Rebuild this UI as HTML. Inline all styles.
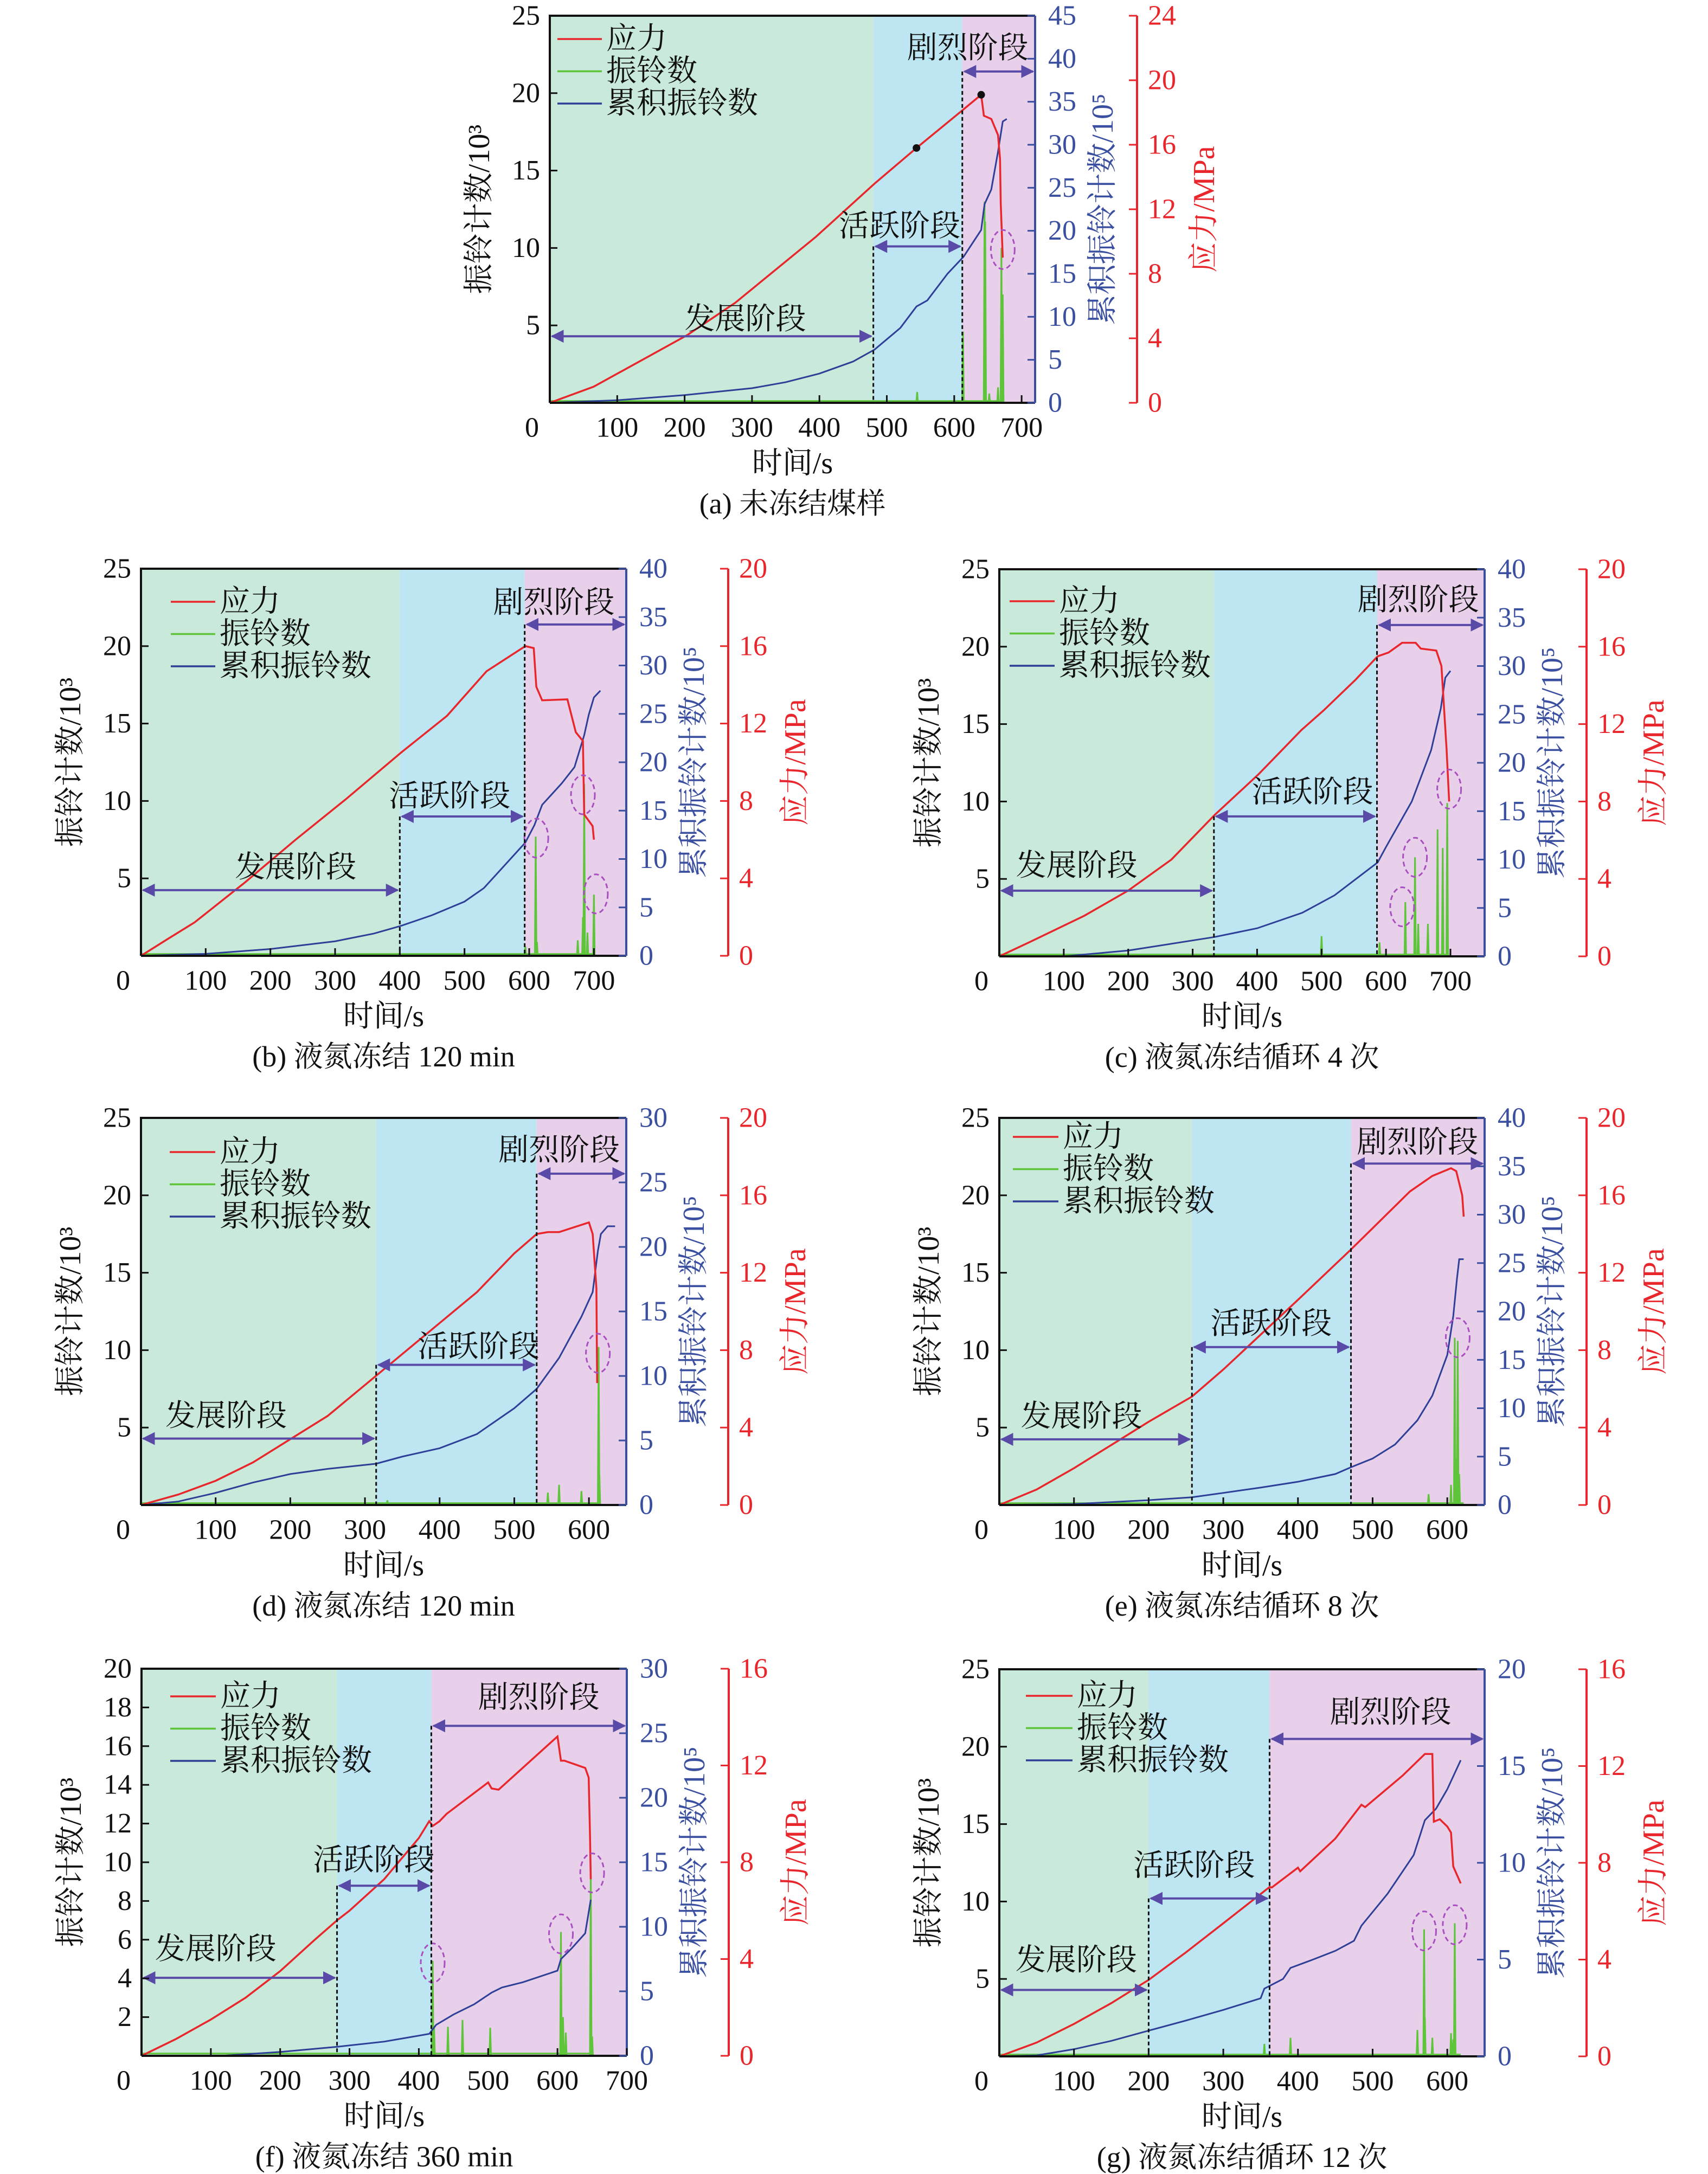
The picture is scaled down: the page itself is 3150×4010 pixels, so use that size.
<!DOCTYPE html>
<html><head><meta charset="utf-8">
<style>
html,body{margin:0;padding:0;background:#fff;}
svg{display:block;}
text{font-family:"Liberation Serif","Noto Serif CJK SC",serif;}
</style></head>
<body>
<svg id="fig" xmlns="http://www.w3.org/2000/svg" width="3150" height="4010" viewBox="0 0 3150 4010">
<defs>
<marker id="ah" viewBox="0 0 10 10" refX="9" refY="5" markerWidth="6" markerHeight="6" orient="auto-start-reverse" markerUnits="strokeWidth">
<path d="M0,0 L10,5 L0,10 z" fill="#5a4aa8"/>
</marker>
</defs>
<rect x="0" y="0" width="3150" height="4010" fill="#fff"/>
</svg>
<script>
// ===== Panel (a) data =====
const aStage = [480, 612];
const aStressT = [0,65,204,275,395,482,544,614,640,644,655,665,668,669,672];
const aStressV = [0,1.0,4.2,6.2,10.3,13.6,15.8,18.2,19.1,17.8,17.6,16.6,15.1,12.4,9.0];
const aCumT = [0,100,200,300,350,400,450,482,520,544,560,590,614,640,645,655,665,672,678];
const aCumV = [0,0.3,0.9,1.7,2.4,3.4,4.8,6.2,8.7,11.2,11.9,15.0,17.0,20.1,23.1,24.8,29.2,32.7,33.0];
const aRingT = [545,613,645,646,652,665,670,672];
const aRingV = [0.7,4.6,13.0,11.7,0.6,1.0,10.0,7.0];
const aDotsT = [544,640];
const aCircT = [672]; const aCircV = [9.9];
const aArrowY = [4.3,10.1,21.4];
// ===== Panel (b) =====
const bStage = [400, 593];
const bStressT = [0,40,83,161,239,317,402,473,534,594,607,611,620,659,672,683,685,698,700];
const bStressV = [0,0.84,1.73,3.8,6.0,8.1,10.5,12.4,14.7,16.0,15.9,13.9,13.2,13.25,11.55,11.1,7.3,6.7,6.0];
const bCumT = [0,100,200,300,360,402,450,500,530,560,594,608,620,650,670,685,692,700,710];
const bCumV = [0,0.2,0.7,1.5,2.3,3.1,4.2,5.6,7.0,9.2,11.7,13.5,15.6,17.8,19.5,22.8,24.9,26.7,27.4];
const bRingT = [594,610,612,675,683,685,690,700];
const bRingV = [0.6,7.7,0.9,1.0,2.5,11.1,1.5,3.95];
const bCircT = [611,683,703]; const bCircV = [7.6,10.4,4.0];
const bArrowY = [4.24,9.0,21.4];
// ===== Panel (c) =====
const cStage = [333, 586];
const cStressT = [0,48,132,200,267,334,402,469,503,553,587,604,625,646,654,678,686,689,694,698];
const cStressV = [0,0.75,2.1,3.4,5.0,7.3,9.4,11.7,12.7,14.3,15.5,15.7,16.2,16.2,15.9,15.8,15.0,13.4,10.7,8.0];
const cCumT = [100,200,334,400,470,520,587,600,640,670,685,692,700];
const cCumV = [0,0.6,2.0,2.9,4.5,6.3,9.7,11.3,16.0,21.3,25.6,28.8,29.5];
const cRingT = [500,590,630,645,650,665,680,688,695];
const cRingV = [1.3,0.9,3.5,6.4,2.1,2.1,8.2,7.0,9.9];
const cCircT = [625,645,698]; const cCircV = [3.2,6.4,10.8];
const cArrowY = [4.24,9.04,21.4];
// ===== Panel (d) =====
const dStage = [315, 530];
const dStressT = [0,50,100,150,200,250,300,350,400,450,500,530,545,560,600,605,610,611];
const dStressV = [0,0.54,1.25,2.2,3.4,4.6,6.2,7.8,9.4,11.0,13.0,14.0,14.1,14.1,14.6,14.0,11.2,6.3];
const dCumT = [0,50,100,150,200,250,315,350,400,450,500,530,560,590,605,612,616,625,635];
const dCumV = [0,0.27,0.94,1.74,2.4,2.8,3.2,3.75,4.4,5.5,7.5,9.0,11.4,14.6,16.5,19.7,21.0,21.6,21.6];
const dRingT = [330,545,560,590,613,614];
const dRingV = [0.3,0.8,1.3,0.9,10.2,2.0];
const dCircT = [612]; const dCircV = [9.8];
const dArrowY = [4.29,9.05,21.4];
// ===== Panel (e) =====
const eStage = [258, 471];
const eStressT = [0,50,100,150,200,258,300,350,400,471,500,550,580,605,612,620,622];
const eStressV = [0,0.8,1.9,3.1,4.3,5.6,7.0,8.8,10.6,13.2,14.3,16.2,17.0,17.4,17.25,16.0,14.9];
const eCumT = [0,100,200,258,300,350,400,450,471,500,530,560,580,600,608,613,616,622];
const eCumV = [0,0.1,0.5,0.8,1.25,1.8,2.4,3.2,3.9,4.8,6.25,8.75,11.3,15.5,19.5,23.4,25.4,25.4];
const eRingT = [575,605,610,612,614,616];
const eRingV = [0.7,1.3,10.8,3.0,10.6,2.0];
const eCircT = [614]; const eCircV = [10.8];
const eArrowY = [4.24,10.2,22.05];
// ===== Panel (f) =====
const fStage = [282, 418];
const fStressT = [0,50,100,150,200,250,282,300,350,400,415,420,430,440,500,505,515,600,605,610,640,645,647,648];
const fStressV = [0,0.7,1.5,2.4,3.5,4.8,5.6,6.0,7.3,9.0,9.7,9.5,9.7,10.0,11.3,11.05,11.0,13.2,12.2,12.2,11.9,11.5,9.0,7.3];
const fCumT = [115,200,282,350,415,425,450,480,505,520,550,600,605,620,640,648];
const fCumV = [0,0.3,0.7,1.1,1.7,2.4,3.2,4.0,4.9,5.3,5.7,6.6,7.5,8.3,9.5,12.1];
const fRingT = [420,422,442,463,503,605,608,612,648,650];
const fRingV = [4.9,1.5,1.5,1.85,1.45,6.4,2.0,1.2,9.8,1.0];
const fCircT = [420,605,650]; const fCircV = [4.8,6.3,9.45];
const fArrowY = [4.03,8.79,17.05];
// ===== Panel (g) =====
const gStage = [200, 362];
const gStressT = [0,50,100,150,200,250,300,362,365,400,403,450,485,490,540,570,580,582,590,600,605,608,618];
const gStressV = [0,0.57,1.34,2.2,3.16,4.3,5.5,7.0,6.98,7.8,7.65,9.0,10.4,10.3,11.6,12.5,12.5,9.7,9.8,9.5,9.25,7.85,7.15];
const gCumT = [0,50,100,150,200,250,300,350,355,380,390,420,450,475,485,520,555,570,585,600,618];
const gCumV = [0,0.05,0.37,0.8,1.33,1.85,2.4,3.0,3.5,4.0,4.57,5.0,5.45,5.97,6.75,8.4,10.4,12.2,12.8,13.8,15.3];
const gRingT = [355,390,560,569,570,580,605,608,610];
const gRingV = [0.8,1.2,1.7,8.2,2.5,1.2,1.5,1.1,8.6];
const gCircT = [569,610]; const gCircV = [8.1,8.5];
const gArrowY = [4.29,10.2,20.5];

const stageNames = ['发展阶段','活跃阶段','剧烈阶段'];

const NS = 'http://www.w3.org/2000/svg';
const svg = document.getElementById('fig');
function mk(tag, attrs, parent){
  const e = document.createElementNS(NS, tag);
  for (const k in attrs) e.setAttribute(k, attrs[k]);
  (parent || svg).appendChild(e);
  return e;
}
const RED='#e8262b', GRN='#5ec43a', BLU='#2e3f98', AXB='#3a4fa0', PUR='#5a4aa8';

const panels = [
 {id:'a', L:1014, T:29, xmax:720, lmax:25, lstep:5, bmax:45, rmax:24, rstep:4, xticks:[100,200,300,400,500,600,700],
  stage:aStage, sT:aStressT, sV:aStressV, cT:aCumT, cV:aCumV, gT:aRingT, gV:aRingV, circT:aCircT, circV:aCircV, arrowY:aArrowY,
  labels:[[290,5.4],[519,11.4],[620,22.9]], leg:[14,96,43], caption:'(a) 未冻结煤样', dots:aDotsT},
 {id:'b', L:260, T:1049, xmax:750, lmax:25, lstep:5, bmax:40, rmax:20, rstep:4, xticks:[100,200,300,400,500,600,700],
  stage:bStage, sT:bStressT, sV:bStressV, cT:bCumT, cV:bCumV, gT:bRingT, gV:bRingV, circT:bCircT, circV:bCircV, arrowY:bArrowY,
  labels:[[239,5.7],[477,10.3],[638,22.8]], leg:[55,137,61], caption:'(b) 液氮冻结 120 min'},
 {id:'c', L:1843, T:1050, xmax:753, lmax:25, lstep:5, bmax:40, rmax:20, rstep:4, xticks:[100,200,300,400,500,600,700],
  stage:cStage, sT:cStressT, sV:cStressV, cT:cCumT, cV:cCumV, gT:cRingT, gV:cRingV, circT:cCircT, circV:cCircV, arrowY:cArrowY,
  labels:[[120,5.85],[486,10.6],[650,23.0]], leg:[19,102,59], caption:'(c) 液氮冻结循环 4 次'},
 {id:'d', L:260, T:2062, xmax:650, lmax:25, lstep:5, bmax:30, rmax:20, rstep:4, xticks:[100,200,300,400,500,600],
  stage:dStage, sT:dStressT, sV:dStressV, cT:dCumT, cV:dCumV, gT:dRingT, gV:dRingV, circT:dCircT, circV:dCircV, arrowY:dArrowY,
  labels:[[114,5.74],[452,10.2],[560,22.9]], leg:[53,137,63], caption:'(d) 液氮冻结 120 min'},
 {id:'e', L:1843, T:2062, xmax:650, lmax:25, lstep:5, bmax:40, rmax:20, rstep:4, xticks:[100,200,300,400,500,600],
  stage:eStage, sT:eStressT, sV:eStressV, cT:eCumT, cV:eCumV, gT:eRingT, gV:eRingV, circT:eCircT, circV:eCircV, arrowY:eArrowY,
  labels:[[110,5.7],[364,11.7],[560,23.4]], leg:[25,109,35], caption:'(e) 液氮冻结循环 8 次'},
 {id:'f', L:261, T:3078, xmax:700, lmax:20, lstep:2, bmax:30, rmax:16, rstep:4, xticks:[100,200,300,400,500,600,700],
  stage:fStage, sT:fStressT, sV:fStressV, cT:fCumT, cV:fCumV, gT:fRingT, gV:fRingV, circT:fCircT, circV:fCircV, arrowY:fArrowY,
  labels:[[107,5.5],[335,10.1],[573,18.5]], leg:[53,137,51], caption:'(f) 液氮冻结 360 min'},
 {id:'g', L:1843, T:3079, xmax:650, lmax:25, lstep:5, bmax:20, rmax:16, rstep:4, xticks:[100,200,300,400,500,600],
  stage:gStage, sT:gStressT, sV:gStressV, cT:gCumT, cV:gCumV, gT:gRingT, gV:gRingV, circT:gCircT, circV:gCircV, arrowY:gArrowY,
  labels:[[103,6.2],[261,12.3],[524,22.2]], leg:[49,135,49], caption:'(g) 液氮冻结循环 12 次'}
];

const W = 895, H = 714, RAX = 1083;

panels.forEach(p => {
  const L=p.L, T=p.T, B=T+H, R=L+W, RA=L+RAX;
  const X = t => L + t/p.xmax*W;
  const YL = v => B - v/p.lmax*H;
  const YB = v => B - v/p.bmax*H;
  const YR = v => B - v/p.rmax*H;
  const g = mk('g', {});
  
  

  const bands = [[0,p.stage[0],'#c9eadb','development'],[p.stage[0],p.stage[1],'#bde5f2','active'],[p.stage[1],p.xmax,'#e8d0ea','violent']];
  bands.forEach(b => {
    const r = mk('rect', {x:X(b[0]), y:T, width:X(b[1])-X(b[0]), height:H, fill:b[2]}, g);
    
    
  });

  const endT = p.sT[p.sT.length-1];
  let d = 'M'+X(0)+','+YL(0.12)+' L'+X(endT)+','+YL(0.12);
  for (let i=0;i<p.gT.length;i++){
    d += ' M'+(X(p.gT[i])-1.5)+','+YL(0)+' L'+X(p.gT[i])+','+YL(p.gV[i])+' L'+(X(p.gT[i])+1.5)+','+YL(0);
  }
  const ring = mk('path', {d:d, fill:'none', stroke:GRN, 'stroke-width':3}, g);
  
  

  const cum = mk('polyline', {points:p.cT.map((t,i)=>X(t)+','+YB(p.cV[i])).join(' '), fill:'none', stroke:BLU, 'stroke-width':3}, g);
  
  

  const st = mk('polyline', {points:p.sT.map((t,i)=>X(t)+','+YR(p.sV[i])).join(' '), fill:'none', stroke:RED, 'stroke-width':3.5}, g);
  
  

  if (p.dots){
    p.dots.forEach(t => {
      let j=0; while (j<p.sT.length-1 && p.sT[j+1]<t) j++;
      const t0=p.sT[j], t1=p.sT[j+1]; const v = p.sV[j] + (p.sV[j+1]-p.sV[j])*(t-t0)/(t1-t0);
      const c = mk('circle', {cx:X(t), cy:YR(v), r:7, fill:'#111'}, g);
      
      
    });
  }

  p.circT.forEach((t,i) => {
    const e = mk('ellipse', {cx:X(t), cy:YL(p.circV[i]), rx:22, ry:36, fill:'none', stroke:'#a94fc0', 'stroke-width':3, 'stroke-dasharray':'9 6'}, g);
    
    
  });

  [[p.stage[0],p.arrowY[1]],[p.stage[1],p.arrowY[2]]].forEach(s => {
    const l = mk('line', {x1:X(s[0]), y1:YL(s[1]), x2:X(s[0]), y2:B, stroke:'#111', 'stroke-width':3, 'stroke-dasharray':'7 5'}, g);
    
    
  });

  const spans = [[0,p.stage[0]],[p.stage[0],p.stage[1]],[p.stage[1],p.xmax]];
  spans.forEach((s,i) => {
    const a = mk('line', {x1:X(s[0])+4, y1:YL(p.arrowY[i]), x2:X(s[1])-4, y2:YL(p.arrowY[i]), stroke:PUR, 'stroke-width':4, 'marker-start':'url(#ah)', 'marker-end':'url(#ah)'}, g);
    
    
    const tx = mk('text', {x:X(p.labels[i][0]), y:YL(p.labels[i][1]), 'font-size':56, 'text-anchor':'middle', 'dominant-baseline':'central', fill:'#111'}, g);
    tx.textContent = stageNames[i];
    
    
  });

  const fr = mk('path', {d:'M'+L+','+B+' L'+L+','+T+' L'+R+','+T, fill:'none', stroke:'#111', 'stroke-width':4}, g);
  
  
  const xa = mk('line', {x1:L, y1:B, x2:R, y2:B, stroke:'#111', 'stroke-width':4}, g);
  
  
  const ba = mk('line', {x1:R, y1:T, x2:R, y2:B, stroke:AXB, 'stroke-width':4}, g);
  
  
  const ra = mk('line', {x1:RA, y1:T, x2:RA, y2:B, stroke:RED, 'stroke-width':4}, g);
  
  

  p.xticks.forEach(t => {
    const tk = mk('line', {x1:X(t), y1:B, x2:X(t), y2:B-14, stroke:'#111', 'stroke-width':3}, g);
    
    
    const lb = mk('text', {x:X(t), y:B+46, 'font-size':52, 'text-anchor':'middle', 'dominant-baseline':'central', fill:'#111'}, g);
    lb.textContent = t;
    
    
  });
  const z = mk('text', {x:L-33, y:B+46, 'font-size':52, 'text-anchor':'middle', 'dominant-baseline':'central', fill:'#111'}, g);
  z.textContent = '0';
  
  

  for (let v=p.lstep; v<=p.lmax+0.001; v+=p.lstep){
    const tk = mk('line', {x1:L, y1:YL(v), x2:L+14, y2:YL(v), stroke:'#111', 'stroke-width':3}, g);
    
    
    const lb = mk('text', {x:L-18, y:YL(v), 'font-size':52, 'text-anchor':'end', 'dominant-baseline':'central', fill:'#111'}, g);
    lb.textContent = v;
    
    
  }
  for (let v=0; v<=p.bmax+0.001; v+=5){
    const tk = mk('line', {x1:R, y1:YB(v), x2:R-14, y2:YB(v), stroke:AXB, 'stroke-width':3}, g);
    
    
    const lb = mk('text', {x:R+24, y:YB(v), 'font-size':52, 'text-anchor':'start', 'dominant-baseline':'central', fill:AXB}, g);
    lb.textContent = v;
    
    
  }
  for (let v=0; v<=p.rmax+0.001; v+=p.rstep){
    const tk = mk('line', {x1:RA, y1:YR(v), x2:RA-15, y2:YR(v), stroke:RED, 'stroke-width':3}, g);
    
    
    const lb = mk('text', {x:RA+20, y:YR(v), 'font-size':52, 'text-anchor':'start', 'dominant-baseline':'central', fill:RED}, g);
    lb.textContent = v;
    
    
  }

  const cy = T + H/2;
  const lt = mk('text', {x:L-130, y:cy, 'font-size':56, 'text-anchor':'middle', 'dominant-baseline':'central', fill:'#111', transform:'rotate(-90 '+(L-130)+' '+cy+')'}, g);
  lt.textContent = '振铃计数/10³';
  
  
  const bt = mk('text', {x:R+125, y:cy, 'font-size':56, 'text-anchor':'middle', 'dominant-baseline':'central', fill:AXB, transform:'rotate(-90 '+(R+125)+' '+cy+')'}, g);
  bt.textContent = '累积振铃计数/10⁵';
  
  
  const rt = mk('text', {x:RA+124, y:cy, 'font-size':56, 'text-anchor':'middle', 'dominant-baseline':'central', fill:RED, transform:'rotate(-90 '+(RA+124)+' '+cy+')'}, g);
  rt.textContent = '应力/MPa';
  
  
  const xt = mk('text', {x:L+W/2, y:B+112, 'font-size':56, 'text-anchor':'middle', 'dominant-baseline':'central', fill:'#111'}, g);
  xt.textContent = '时间/s';
  
  
  const cp = mk('text', {x:L+W/2, y:B+186, 'font-size':54, 'text-anchor':'middle', 'dominant-baseline':'central', fill:'#111'}, g);
  cp.textContent = p.caption;
  
  

  const legItems = [['应力',RED],['振铃数',GRN],['累积振铃数',BLU]];
  legItems.forEach((it,i) => {
    const y = T + p.leg[2] + i*59.5;
    const ln = mk('line', {x1:L+p.leg[0], y1:y, x2:L+p.leg[1], y2:y, stroke:it[1], 'stroke-width':3.5}, g);
    
    
    const tx = mk('text', {x:L+p.leg[1]+8, y:y, 'font-size':56, 'text-anchor':'start', 'dominant-baseline':'central', fill:'#111'}, g);
    tx.textContent = it[0];
    
    
  });
});
</script>
</body></html>
